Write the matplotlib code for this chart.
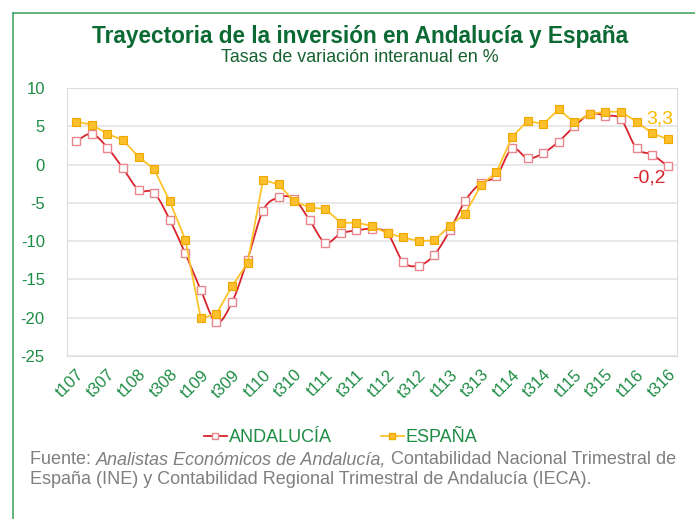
import numpy as np
import matplotlib
matplotlib.use('Agg')
import matplotlib.pyplot as plt
from matplotlib.lines import Line2D

plt.rcParams['font.family'] = ['Liberation Sans', 'DejaVu Sans']
plt.rcParams['axes.unicode_minus'] = False

# trimestres 2007T1 - 2016T3
quarters = [f't{q}{y:02d}' for y in range(7, 17) for q in range(1, 5)][:39]
andalucia = [3.1, 4.0, 2.2, -0.5, -3.3, -3.7, -7.2, -11.6, -16.4, -20.6,
             -18.0, -12.4, -6.0, -4.3, -4.5, -7.3, -10.2, -9.0, -8.6, -8.4,
             -9.0, -12.7, -13.2, -11.8, -8.6, -4.7, -2.4, -1.5, 2.1, 0.8,
             1.5, 3.0, 5.0, 6.6, 6.4, 5.9, 2.1, 1.3, -0.2]
espana = [5.6, 5.2, 4.0, 3.2, 1.0, -0.6, -4.8, -9.8, -20.1, -19.5,
          -15.9, -12.9, -2.0, -2.6, -4.8, -5.6, -5.8, -7.6, -7.6, -8.0,
          -9.0, -9.5, -10.0, -9.9, -8.0, -6.4, -2.7, -1.0, 3.6, 5.7,
          5.3, 7.2, 5.5, 6.6, 6.9, 6.9, 5.6, 4.1, 3.3]
tick_labels = quarters[::2]

green = '#1d8c44'
red = '#d8232c'
yellow = '#fcc42a'

def catmull(y, n=12):
    y = np.asarray(y, dtype=float)
    x = np.arange(len(y), dtype=float)
    p = np.concatenate([[2 * y[0] - y[1]], y, [2 * y[-1] - y[-2]]])
    xs, ys = [], []
    for i in range(len(y) - 1):
        t = np.linspace(0, 1, n, endpoint=False)
        p0, p1, p2, p3 = p[i], p[i + 1], p[i + 2], p[i + 3]
        ys.append(0.5 * (2 * p1 + (-p0 + p2) * t + (2 * p0 - 5 * p1 + 4 * p2 - p3) * t**2
                         + (-p0 + 3 * p1 - 3 * p2 + p3) * t**3))
        xs.append(x[i] + t)
    xs.append([x[-1]]); ys.append([y[-1]])
    return np.concatenate(xs), np.concatenate(ys)

fig = plt.figure(figsize=(6.95, 5.19), dpi=100)
ax = fig.add_axes([67 / 695, 1 - 356 / 519, 610 / 695, 268 / 519])

x = np.arange(len(quarters))
xs, ys = catmull(andalucia)
ax.plot(xs, ys, color=red, lw=1.3, zorder=3)
ax.plot(x, andalucia, ls='none', marker='s', ms=6, mfc='white', mec='#e8858d', mew=1, zorder=4)
ax.plot(x, espana, color=yellow, lw=1.3, marker='s', ms=6, mfc='#fcc02c', mec='#f0a800', mew=0.8, zorder=5)

ax.set_xlim(-0.6, len(quarters) - 0.4)
ax.set_ylim(-25, 10)
ax.set_yticks(range(-25, 11, 5))
ax.set_xticks(x[::2])
ax.set_xticklabels(tick_labels, rotation=45, ha='right', rotation_mode='anchor')
ax.tick_params(length=0, labelsize=12, labelcolor=green)
ax.tick_params(axis='y', pad=16)
ax.tick_params(axis='x', pad=8)
ax.grid(axis='y', color='#e4e4e4', lw=1.2)
ax.set_axisbelow(True)
for s in ax.spines.values():
    s.set_color('#dddddd')

ax.text(len(quarters) - 1.5, 3.3 + 2.7, '3,3', color='#f7b900', fontsize=14, ha='center', va='center')
ax.text(len(quarters) - 2.2, -0.2 - 1.6, '-0,2', color=red, fontsize=14, ha='center', va='center')

# marco verde
fig.add_artist(Line2D([13 / 695, 1], [1 - 13 / 519] * 2, color='#4aa46a', lw=1.2))
fig.add_artist(Line2D([13 / 695] * 2, [0, 1 - 13 / 519], color='#4aa46a', lw=1.2))

fig.text(0.518, 1 - 36 / 519, 'Trayectoria de la inversión en Andalucía y España',
         ha='center', va='center', fontsize=16.3, fontweight='bold', color='#0b6a33')
fig.text(0.518, 1 - 57 / 519, 'Tasas de variación interanual en %',
         ha='center', va='center', fontsize=12.9, color='#16612f')

h1 = Line2D([], [], color=red, lw=1.3, marker='s', ms=5, mfc='white', mec='#e8858d')
h2 = Line2D([], [], color=yellow, lw=1.3, marker='s', ms=5, mfc='#fcc02c', mec='#f0a800')
fig.legend([h1, h2], ['ANDALUCÍA', 'ESPAÑA'], loc='center', bbox_to_anchor=(0.49, 1 - 438 / 519),
           ncol=2, frameon=False, fontsize=13, labelcolor=green, handlelength=1.3,
           handletextpad=0.1, columnspacing=2.7)

# fuente
fig.canvas.draw()
r = fig.canvas.get_renderer()
xpos = 30 / 695
y1 = 1 - 460 / 519
for txt, st in [('Fuente: ', 'normal'), ('Analistas Económicos de Andalucía,', 'italic'),
                (' Contabilidad Nacional Trimestral de', 'normal')]:
    t = fig.text(xpos, y1, txt, fontsize=13, color='#7f7f7f', style=st, va='center')
    bb = t.get_window_extent(renderer=r)
    xpos += bb.width / fig.bbox.width
fig.text(30 / 695, 1 - 479 / 519, 'España (INE) y Contabilidad Regional Trimestral de Andalucía (IECA).',
         fontsize=13, color='#7f7f7f', va='center')

fig.savefig('out.png', dpi=100)
